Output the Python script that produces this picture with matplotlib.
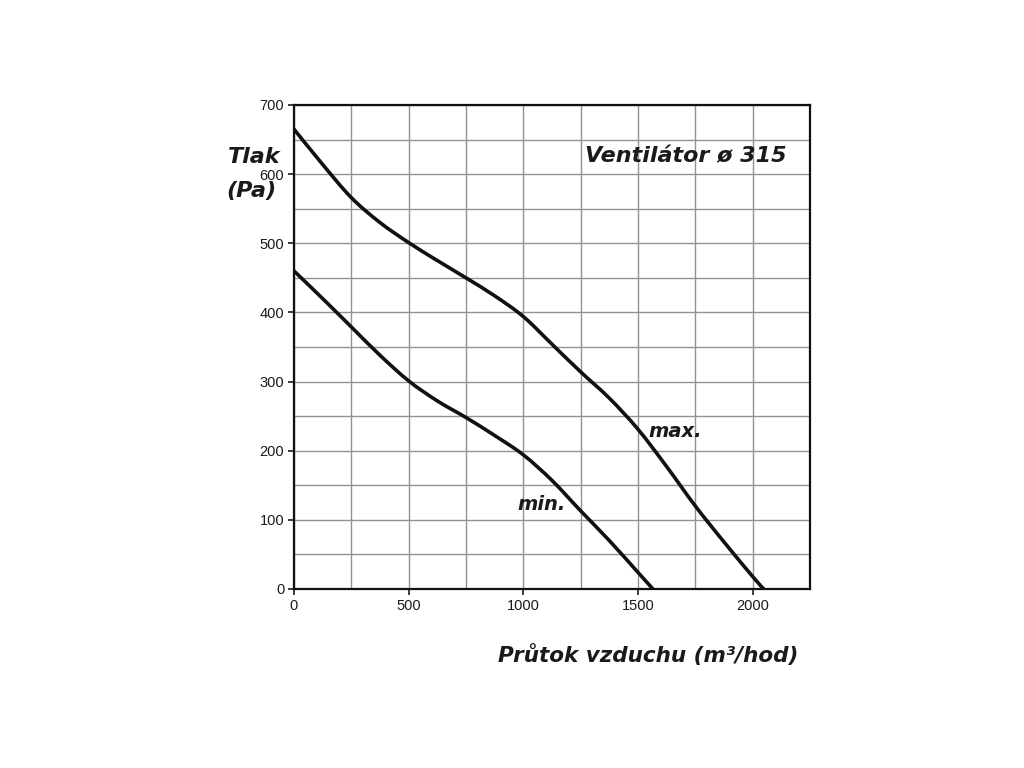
import numpy as np
import matplotlib
matplotlib.use('Agg')
import matplotlib.pyplot as plt
from matplotlib.ticker import MultipleLocator
from matplotlib.path import Path
from matplotlib.patches import PathPatch

# Fan curves (flow m3/h, pressure Pa)
max_flow = [0, 125, 250, 375, 500, 625, 750, 875, 1000, 1125, 1250, 1375, 1500, 1625, 1750, 1875, 2000, 2048]
max_pressure = [665, 614, 566, 530, 501, 475, 450, 424, 394, 354, 314, 276, 231, 177, 120, 68, 18, 0]

min_flow = [0, 125, 250, 375, 500, 625, 750, 875, 1000, 1125, 1250, 1375, 1500, 1565]
min_pressure = [460, 420, 379, 338, 301, 272, 248, 222, 194, 157, 113, 70, 24, 0]

x_ticks = [0, 500, 1000, 1500, 2000]
y_ticks = [0, 100, 200, 300, 400, 500, 600, 700]

label_font = dict(family='DejaVu Sans', fontweight='bold', fontstyle='italic', color='#1a1a1a')


def smooth_path(xs, ys):
    # Catmull-Rom through the read points, drawn as cubic Bezier segments
    p = np.column_stack([xs, ys]).astype(float)
    verts = [p[0]]
    codes = [Path.MOVETO]
    for i in range(len(p) - 1):
        p0 = p[i - 1] if i > 0 else p[i]
        p3 = p[i + 2] if i + 2 < len(p) else p[i + 1]
        c1 = p[i] + (p[i + 1] - p0) / 6
        c2 = p[i + 1] - (p3 - p[i]) / 6
        verts += [c1, c2, p[i + 1]]
        codes += [Path.CURVE4] * 3
    return Path(verts, codes)


fig = plt.figure(figsize=(10.24, 7.68), dpi=100)
ax = fig.add_axes([294 / 1024, 1 - 589 / 768, 516 / 1024, 484 / 768])

for xs, ys in [(max_flow, max_pressure), (min_flow, min_pressure)]:
    ax.add_patch(PathPatch(smooth_path(xs, ys), facecolor='none', edgecolor='#111111',
                           linewidth=2.6, capstyle='round', zorder=3))

ax.set_xlim(0, 2250)
ax.set_ylim(0, 700)
ax.set_xticks(x_ticks)
ax.set_yticks(y_ticks)
ax.xaxis.set_minor_locator(MultipleLocator(250))
ax.yaxis.set_minor_locator(MultipleLocator(50))
ax.grid(True, which='both', color='#939393', linewidth=1.0)
ax.set_axisbelow(True)
ax.tick_params(which='major', length=4, width=1.2, labelsize=10.5, colors='#1a1a1a', pad=3)
ax.tick_params(which='minor', length=0)
for lab in ax.get_xticklabels() + ax.get_yticklabels():
    lab.set_family('Liberation Sans')
for sp in ax.spines.values():
    sp.set_linewidth(1.6)
    sp.set_color('#111111')

# Curve labels and headings
ax.text(1545, 228, 'max.', fontsize=14, ha='left', va='center', **label_font)
ax.text(975, 122, 'min.', fontsize=14, ha='left', va='center', **label_font)
fig.text(585 / 1024, 1 - 156 / 768, 'Ventilátor ø 315', fontsize=16, ha='left', va='center', **label_font)
fig.text(228 / 1024, 1 - 157 / 768, 'Tlak', fontsize=16, ha='left', va='center', **label_font)
fig.text(226 / 1024, 1 - 191 / 768, '(Pa)', fontsize=16, ha='left', va='center', **label_font)
fig.text(798 / 1024, 1 - 655 / 768, 'Průtok vzduchu (m³/hod)', fontsize=15.5, ha='right', va='center', **label_font)

fig.savefig('out.png', dpi=100, facecolor='white')
